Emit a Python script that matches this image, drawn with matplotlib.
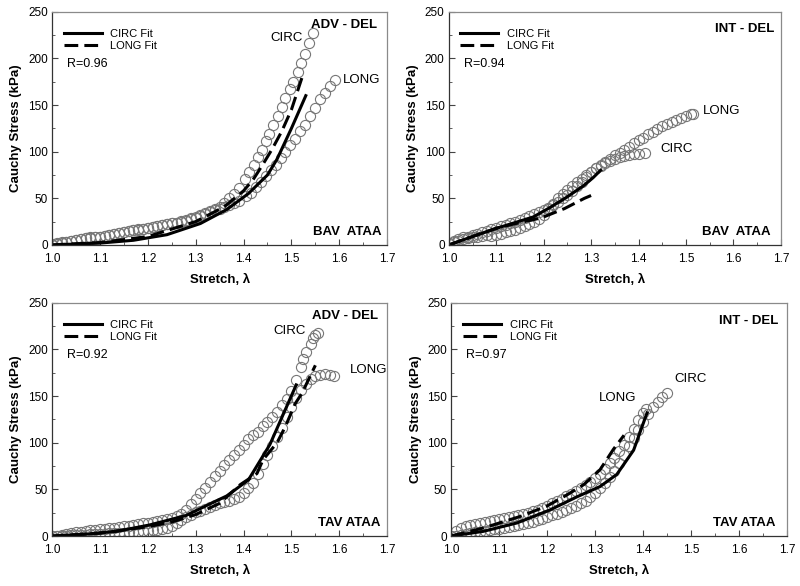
import numpy as np
import matplotlib
matplotlib.use('Agg')
import matplotlib.pyplot as plt
from matplotlib.ticker import MultipleLocator, FormatStrFormatter

plt.rcParams['font.family'] = ['Liberation Sans', 'DejaVu Sans']

'''DATA'''
# top left: BAV ATAA, ADV - DEL
bav_adv_circ_x = [1.00, 1.01, 1.02, 1.03, 1.04, 1.05, 1.06, 1.07, 1.08, 1.09, 1.10, 1.11, 1.12, 1.13, 1.14,
                  1.15, 1.16, 1.17, 1.18, 1.19, 1.20, 1.21, 1.22, 1.23, 1.24, 1.25, 1.26, 1.27, 1.28, 1.29,
                  1.30, 1.31, 1.32, 1.33, 1.34, 1.35, 1.36, 1.37, 1.38, 1.39, 1.404, 1.412, 1.421, 1.430,
                  1.438, 1.447, 1.454, 1.462, 1.472, 1.480, 1.487, 1.496, 1.504, 1.513, 1.520, 1.529, 1.537, 1.545]
bav_adv_circ_y = [0, 1, 2, 3, 4, 5, 6, 7, 8, 8.5, 9, 10, 11, 12, 13,
                  14, 15, 16, 17, 17.5, 18, 19, 20, 21, 22, 23, 24, 25.5, 27, 28.5,
                  30, 32, 34, 36, 38, 41, 45, 50, 55, 61, 71, 78, 86, 94,
                  102, 111, 119, 129, 138, 148, 158, 167, 175, 185, 195, 205, 217, 227]
bav_adv_long_x = [1.00, 1.01, 1.02, 1.03, 1.04, 1.05, 1.06, 1.07, 1.08, 1.09, 1.10, 1.11, 1.12, 1.13, 1.14,
                  1.15, 1.16, 1.17, 1.18, 1.19, 1.20, 1.21, 1.22, 1.23, 1.24, 1.25, 1.26, 1.27, 1.28, 1.29,
                  1.30, 1.31, 1.32, 1.33, 1.34, 1.35, 1.36, 1.37, 1.38, 1.39, 1.405, 1.416, 1.426, 1.436,
                  1.447, 1.457, 1.468, 1.478, 1.487, 1.497, 1.508, 1.518, 1.529, 1.539, 1.550, 1.560, 1.570,
                  1.581, 1.591]
bav_adv_long_y = [1, 2, 3, 3.5, 4.5, 5, 6, 7, 7.5, 8.5, 9, 10, 11, 12, 13,
                  13.5, 14.5, 15.5, 16, 17, 18, 19, 20, 21, 22, 23, 24, 25, 26, 27.5,
                  29, 31, 33, 35, 37, 39, 41, 43, 45, 47, 52, 56, 62, 68,
                  74, 80, 86, 93, 100, 107, 114, 122, 129, 138, 147, 156, 163,
                  170, 177]
bav_adv_cfit_x = [1.00, 1.10, 1.17, 1.24, 1.31, 1.365, 1.41, 1.45, 1.47, 1.50, 1.53]
bav_adv_cfit_y = [0, 2, 5, 11, 23, 38, 55, 75, 92, 125, 160]
bav_adv_lfit_x = [1.00, 1.10, 1.20, 1.30, 1.36, 1.40, 1.42, 1.44, 1.46, 1.48, 1.50, 1.525]
bav_adv_lfit_y = [0, 2.5, 9, 25, 41, 58, 70, 86, 103, 122, 145, 184]

# top right: BAV ATAA, INT - DEL
bav_int_circ_x = [1.00, 1.01, 1.02, 1.03, 1.04, 1.05, 1.06, 1.07, 1.08, 1.09, 1.10, 1.11, 1.12, 1.13, 1.14,
                  1.15, 1.16, 1.17, 1.18, 1.19, 1.20, 1.21, 1.22, 1.23, 1.24, 1.25, 1.26, 1.27, 1.28, 1.29,
                  1.30, 1.31, 1.32, 1.33, 1.34, 1.35, 1.36, 1.37, 1.38, 1.39, 1.40, 1.413]
bav_int_circ_y = [1, 3, 4, 6, 7, 8, 9, 10, 11, 10, 11, 12, 14, 15, 16,
                  18, 20, 22, 25, 28, 32, 38, 44, 50, 55, 59, 63, 67, 71, 75,
                  78, 82, 85, 88, 90, 92, 94, 95, 96, 97, 98, 98.5]
bav_int_long_x = [1.00, 1.01, 1.02, 1.03, 1.04, 1.05, 1.06, 1.07, 1.08, 1.09, 1.10, 1.11, 1.12, 1.13, 1.14,
                  1.15, 1.16, 1.17, 1.18, 1.19, 1.20, 1.21, 1.22, 1.23, 1.24, 1.25, 1.26, 1.27, 1.28, 1.29,
                  1.30, 1.31, 1.32, 1.33, 1.34, 1.35, 1.36, 1.37, 1.38, 1.39, 1.40, 1.41, 1.42, 1.43, 1.44,
                  1.45, 1.46, 1.47, 1.48, 1.49, 1.50, 1.51, 1.515]
bav_int_long_y = [2, 4, 6, 8, 9, 11, 12, 14, 15, 17, 18, 20, 21, 23, 25,
                  27, 29, 31, 33, 35, 37, 40, 43, 46, 50, 54, 58, 63, 68, 73,
                  78, 83, 86, 89, 92, 96, 99, 102, 105, 109, 112, 115, 119, 121, 124,
                  127, 130, 132, 134, 136, 138, 140, 140]
bav_int_cfit_x = [1.00, 1.05, 1.108, 1.178, 1.213, 1.248, 1.283, 1.304, 1.32]
bav_int_cfit_y = [0, 9, 19, 30, 40, 51, 63, 72, 80]
bav_int_lfit_x = [1.00, 1.05, 1.10, 1.15, 1.195, 1.244, 1.286, 1.30]
bav_int_lfit_y = [0, 9, 18, 24, 29, 39, 50, 53]

# bottom left: TAV ATAA, ADV - DEL
tav_adv_circ_x = [1.00, 1.01, 1.02, 1.03, 1.04, 1.05, 1.06, 1.07, 1.08, 1.09, 1.10, 1.11, 1.12, 1.13, 1.14,
                  1.15, 1.16, 1.17, 1.18, 1.19, 1.20, 1.21, 1.22, 1.23, 1.24, 1.25, 1.26, 1.27, 1.28, 1.29,
                  1.30, 1.31, 1.32, 1.33, 1.34, 1.35, 1.36, 1.37, 1.38, 1.39, 1.40, 1.41, 1.42, 1.43, 1.44,
                  1.45, 1.46, 1.47, 1.48, 1.49, 1.50, 1.51, 1.52, 1.525, 1.53, 1.54, 1.545, 1.55, 1.555]
tav_adv_circ_y = [0, 0.5, 1, 2, 3, 4, 4.5, 5, 6, 6.5, 7, 8, 8.5, 9, 10,
                  10.5, 11, 12, 13, 13.5, 14, 15, 16, 17, 18, 19, 21, 24, 28, 34,
                  40, 46, 52, 58, 64, 70, 76, 81, 87, 92, 98, 104, 108, 112, 118,
                  122, 128, 133, 140, 147, 155, 167, 181, 190, 197, 206, 212, 216, 218]
tav_adv_long_x = [1.00, 1.01, 1.02, 1.03, 1.04, 1.05, 1.06, 1.07, 1.08, 1.09, 1.10, 1.11, 1.12, 1.13, 1.14,
                  1.15, 1.16, 1.17, 1.18, 1.19, 1.20, 1.21, 1.22, 1.23, 1.24, 1.25, 1.26, 1.27, 1.28, 1.29,
                  1.30, 1.31, 1.32, 1.33, 1.34, 1.35, 1.36, 1.37, 1.38, 1.39, 1.40, 1.41, 1.42, 1.43, 1.44,
                  1.45, 1.46, 1.47, 1.48, 1.49, 1.50, 1.51, 1.52, 1.53, 1.54, 1.55, 1.56, 1.57, 1.58, 1.588]
tav_adv_long_y = [0, 0, 0.5, 0.5, 1, 1, 1.5, 1.5, 2, 2, 2.5, 2.5, 3, 3, 3.5,
                  3.5, 4, 4, 4.5, 5, 5, 6, 6.5, 7, 9, 11, 14, 17, 20, 23,
                  26, 27, 29, 31, 33, 35, 36, 38, 40, 42, 46, 51, 57, 67, 77,
                  87, 97, 106, 116, 128, 138, 148, 157, 163, 168, 171, 173, 174, 173, 172]
tav_adv_cfit_x = [1.00, 1.07, 1.135, 1.205, 1.28, 1.32, 1.365, 1.41, 1.455, 1.51]
tav_adv_cfit_y = [0, 2, 5, 12, 22, 32, 43, 60, 98, 162]
tav_adv_lfit_x = [1.00, 1.10, 1.20, 1.25, 1.30, 1.35, 1.393, 1.428, 1.441, 1.47, 1.487, 1.508, 1.522, 1.55]
tav_adv_lfit_y = [0, 3, 10, 15, 23, 35, 55, 67, 82, 100, 117, 142, 153, 183]

# bottom right: TAV ATAA, INT - DEL
tav_int_circ_x = [1.00, 1.01, 1.02, 1.03, 1.04, 1.05, 1.06, 1.07, 1.08, 1.09, 1.10, 1.11, 1.12, 1.13, 1.14,
                  1.15, 1.16, 1.17, 1.18, 1.19, 1.20, 1.21, 1.22, 1.23, 1.24, 1.25, 1.26, 1.27, 1.28, 1.29,
                  1.30, 1.31, 1.32, 1.33, 1.34, 1.35, 1.36, 1.37, 1.38, 1.39, 1.40, 1.41, 1.42, 1.43, 1.44, 1.45]
tav_int_circ_y = [0, 0, 1, 2, 3, 4, 4.5, 5.5, 6, 7, 8, 9, 10, 11, 12,
                  13, 14, 15.5, 17, 18.5, 20, 22, 24, 26, 28, 30, 32, 35, 38, 42,
                  46, 51, 57, 63, 70, 78, 87, 96, 105, 114, 122, 131, 138, 144, 149, 153]
tav_int_long_x = [1.00, 1.01, 1.02, 1.03, 1.04, 1.05, 1.06, 1.07, 1.08, 1.09, 1.10, 1.11, 1.12, 1.13, 1.14,
                  1.15, 1.16, 1.17, 1.18, 1.19, 1.20, 1.21, 1.22, 1.23, 1.24, 1.25, 1.26, 1.27, 1.28, 1.29,
                  1.30, 1.31, 1.32, 1.33, 1.34, 1.35, 1.36, 1.37, 1.38, 1.39, 1.40, 1.405]
tav_int_long_y = [0, 5, 9, 11, 12, 13, 14, 15, 16, 17, 18, 19, 20, 21, 23,
                  24, 25, 27, 28, 30, 32, 35, 37, 40, 43, 45, 48, 51, 55, 58,
                  62, 67, 72, 78, 84, 91, 98, 106, 115, 124, 132, 136]
tav_int_cfit_x = [1.00, 1.067, 1.137, 1.206, 1.262, 1.31, 1.345, 1.38, 1.408]
tav_int_cfit_y = [0, 5, 14, 28, 42, 53, 66, 92, 132]
tav_int_lfit_x = [1.00, 1.067, 1.144, 1.199, 1.241, 1.276, 1.31, 1.338, 1.36]
tav_int_lfit_y = [0, 8.6, 21, 32, 44, 55, 71, 93, 108]

panels = [
    # axes rect, data, region tag, valve tag, R, CIRC/LONG label positions (data units)
    dict(rect=[0.065, 0.582, 0.419, 0.398],
         circ=(bav_adv_circ_x, bav_adv_circ_y), long=(bav_adv_long_x, bav_adv_long_y),
         cfit=(bav_adv_cfit_x, bav_adv_cfit_y), lfit=(bav_adv_lfit_x, bav_adv_lfit_y),
         region='ADV - DEL', valve='BAV  ATAA', r='R=0.96',
         circ_lab=(1.455, 222), long_lab=(1.608, 177), reg_y=0.944, valve_x=0.984, reg_x=0.969),
    dict(rect=[0.561, 0.582, 0.415, 0.398],
         circ=(bav_int_circ_x, bav_int_circ_y), long=(bav_int_long_x, bav_int_long_y),
         cfit=(bav_int_cfit_x, bav_int_cfit_y), lfit=(bav_int_lfit_x, bav_int_lfit_y),
         region='INT - DEL', valve='BAV  ATAA', r='R=0.94',
         circ_lab=(1.447, 103), long_lab=(1.536, 144), reg_y=0.925, valve_x=0.970, reg_x=0.982),
    dict(rect=[0.065, 0.0853, 0.419, 0.398],
         circ=(tav_adv_circ_x, tav_adv_circ_y), long=(tav_adv_long_x, tav_adv_long_y),
         cfit=(tav_adv_cfit_x, tav_adv_cfit_y), lfit=(tav_adv_lfit_x, tav_adv_lfit_y),
         region='ADV - DEL', valve='TAV ATAA', r='R=0.92',
         circ_lab=(1.462, 220), long_lab=(1.623, 178), reg_y=0.945, valve_x=0.979, reg_x=0.973),
    dict(rect=[0.564, 0.0853, 0.42, 0.398],
         circ=(tav_int_circ_x, tav_int_circ_y), long=(tav_int_long_x, tav_int_long_y),
         cfit=(tav_int_cfit_x, tav_int_cfit_y), lfit=(tav_int_lfit_x, tav_int_lfit_y),
         region='INT - DEL', valve='TAV ATAA', r='R=0.97',
         circ_lab=(1.465, 168), long_lab=(1.308, 148), reg_y=0.924, valve_x=0.964, reg_x=0.973),
]

'''PLOT'''
fig = plt.figure(figsize=(8, 5.86), dpi=100, facecolor='white')

for p in panels:
    ax = fig.add_axes(p['rect'])
    mk = dict(linestyle='none', marker='o', markersize=7.3, markerfacecolor='none',
              markeredgecolor='#777777', markeredgewidth=0.8)
    ax.plot(*p['circ'], **mk)
    ax.plot(*p['long'], **mk)
    ax.plot(*p['cfit'], color='black', linewidth=2.2, label='CIRC Fit')
    ax.plot(*p['lfit'], color='black', linewidth=2.2, dashes=(4.5, 2), label='LONG Fit')

    ax.set_xlim(1.0, 1.7)
    ax.set_ylim(0, 250)
    ax.xaxis.set_major_locator(MultipleLocator(0.1))
    ax.xaxis.set_minor_locator(MultipleLocator(0.05))
    ax.xaxis.set_major_formatter(FormatStrFormatter('%.1f'))
    ax.yaxis.set_major_locator(MultipleLocator(50))
    ax.yaxis.set_minor_locator(MultipleLocator(25))
    ax.tick_params(which='both', direction='in', labelsize=8.5, color='#444444')
    ax.tick_params(which='major', length=4, width=0.8)
    ax.tick_params(which='minor', length=2.5, width=0.6)
    ax.tick_params(axis='x', which='major', pad=6)
    ax.tick_params(axis='y', which='major', pad=3)
    for side in ['left', 'bottom']:
        ax.spines[side].set_color('#333333')
        ax.spines[side].set_linewidth(0.9)
    for side in ['top', 'right']:
        ax.spines[side].set_color('#8a8a8a')
        ax.spines[side].set_linewidth(0.9)

    ax.set_xlabel('Stretch, λ', fontsize=9.5, fontweight='bold', labelpad=6)
    ax.set_ylabel('Cauchy Stress (kPa)', fontsize=9.5, fontweight='bold', labelpad=4)

    ax.text(p['reg_x'], p['reg_y'], p['region'], transform=ax.transAxes, ha='right', va='center',
            fontsize=9.5, fontweight='bold')
    ax.text(p['valve_x'], 0.057, p['valve'], transform=ax.transAxes, ha='right', va='center',
            fontsize=9.5, fontweight='bold')
    ax.text(0.045, 0.775, p['r'], transform=ax.transAxes, ha='left', va='center', fontsize=9)
    ax.text(*p['circ_lab'], 'CIRC', ha='left', va='center', fontsize=9.5)
    ax.text(*p['long_lab'], 'LONG', ha='left', va='center', fontsize=9.5)

    ax.legend(loc='upper left', bbox_to_anchor=(0.035, 0.927), frameon=False, fontsize=8,
              handlelength=3.4, handletextpad=0.8, labelspacing=0.2, borderpad=0, borderaxespad=0)

fig.savefig('out.png', dpi=100, facecolor='white')
